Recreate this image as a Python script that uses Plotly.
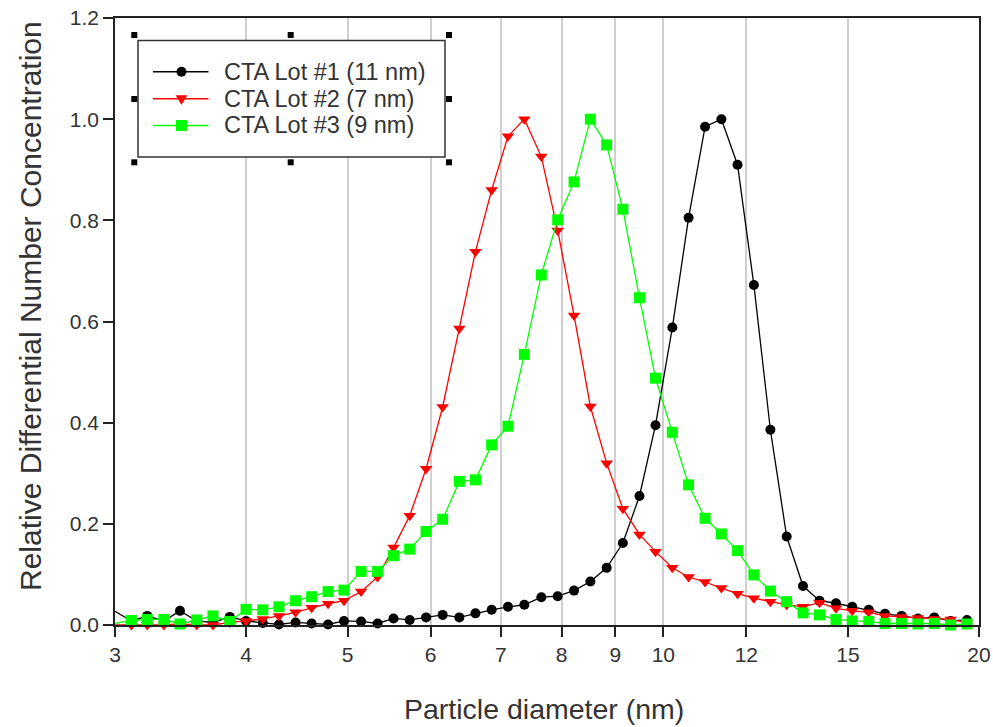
import math
import plotly.graph_objects as go

# ---------------- data ----------------
diameter_nm = [3.00, 3.11, 3.22, 3.34, 3.46, 3.59, 3.72, 3.86, 4.00, 4.15, 4.30, 4.46, 4.62, 4.79,
               4.96, 5.15, 5.34, 5.53, 5.73, 5.94, 6.16, 6.39, 6.62, 6.86, 7.11, 7.37, 7.65, 7.93,
               8.22, 8.52, 8.83, 9.15, 9.49, 9.83, 10.20, 10.57, 10.96, 11.36, 11.77, 12.20, 12.65,
               13.11, 13.59, 14.09, 14.61, 15.14, 15.70, 16.27, 16.87, 17.49, 18.13, 18.79, 19.48]

lot1_11nm = [0.027, 0.008, 0.018, 0.008, 0.028, 0.008, 0.005, 0.016, 0.008, 0.004, 0.001, 0.005,
             0.003, 0.001, 0.008, 0.007, 0.003, 0.013, 0.010, 0.015, 0.020, 0.015, 0.023, 0.030,
             0.036, 0.040, 0.055, 0.057, 0.068, 0.086, 0.113, 0.162, 0.255, 0.395, 0.588, 0.805,
             0.985, 1.000, 0.910, 0.672, 0.386, 0.175, 0.077, 0.048, 0.043, 0.036, 0.030, 0.022,
             0.018, 0.013, 0.015, 0.008, 0.010]

lot2_7nm = [0.000, 0.000, 0.000, 0.000, 0.002, 0.000, 0.000, 0.005, 0.008, 0.012, 0.018, 0.025,
            0.034, 0.042, 0.048, 0.066, 0.095, 0.153, 0.216, 0.309, 0.431, 0.586, 0.738, 0.860,
            0.966, 1.000, 0.926, 0.780, 0.612, 0.432, 0.320, 0.230, 0.179, 0.145, 0.113, 0.095,
            0.085, 0.073, 0.062, 0.053, 0.046, 0.040, 0.036, 0.044, 0.033, 0.028, 0.025, 0.018,
            0.016, 0.014, 0.012, 0.011, 0.004]

lot3_9nm = [0.003, 0.009, 0.011, 0.011, 0.002, 0.010, 0.018, 0.007, 0.031, 0.030, 0.036, 0.048,
            0.056, 0.066, 0.069, 0.106, 0.106, 0.137, 0.150, 0.185, 0.209, 0.284, 0.287, 0.356,
            0.393, 0.535, 0.692, 0.801, 0.876, 1.000, 0.949, 0.822, 0.647, 0.488, 0.381, 0.277,
            0.211, 0.180, 0.147, 0.099, 0.067, 0.046, 0.024, 0.020, 0.011, 0.008, 0.007, 0.003,
            0.003, 0.002, 0.003, 0.000, 0.002]

series_names = ["CTA Lot #1 (11 nm)", "CTA Lot #2 (7 nm)", "CTA Lot #3 (9 nm)"]
x_tick_vals = [3, 4, 5, 6, 7, 8, 9, 10, 12, 15, 20]
x_tick_text = ["3", "4", "5", "6", "7", "8", "9", "10", "12", "15", "20"]
y_tick_vals = [0.0, 0.2, 0.4, 0.6, 0.8, 1.0, 1.2]
y_tick_text = ["0.0", "0.2", "0.4", "0.6", "0.8", "1.0", "1.2"]
x_title = "Particle diameter (nm)"
y_title = "Relative Differential Number Concentration"

# ---------------- layout helpers ----------------
W, H = 993, 727
L, R, T, B = 115, 14, 18, 102
PW, PH = W - L - R, H - T - B
FONT = "Liberation Sans, Arial, sans-serif"
TXT = "#333333"


def px(x):
    return (x - L) / PW


def py(y):
    return (H - B - y) / PH


colors = ["#000000", "#ff0000", "#00ff00"]
symbols = ["circle", "triangle-down", "square"]
msizes = [10, 11, 11]
series = [lot1_11nm, lot2_7nm, lot3_9nm]

fig = go.Figure()
for name, ys, c, s, ms in zip(series_names, series, colors, symbols, msizes):
    fig.add_trace(go.Scatter(
        x=diameter_nm, y=ys, name=name, mode="lines+markers",
        line=dict(color=c, width=1.3),
        marker=dict(symbol=s, size=ms, color=c, line=dict(width=0)),
        cliponaxis=False, showlegend=False))

shapes = []
# legend box (white, above gridlines)
shapes.append(dict(type="rect", xref="paper", yref="paper",
                   x0=px(138), x1=px(445), y0=py(157), y1=py(40.5),
                   line=dict(color="#333333", width=1.5), fillcolor="white", layer="above"))
# selection handles
for hx, hy in [(134.3, 35), (290.7, 35), (449, 35), (134.3, 99), (449, 99),
               (134.3, 162.3), (290.7, 162.3), (449, 162.3)]:
    shapes.append(dict(type="rect", xref="paper", yref="paper",
                       x0=px(hx - 3), x1=px(hx + 3), y0=py(hy + 3), y1=py(hy - 3),
                       line=dict(width=0), fillcolor="black", layer="above"))

rows = [71.7, 98.7, 125.5]
annotations = []
for i, (name, c, s) in enumerate(zip(series_names, colors, symbols)):
    yy = rows[i]
    shapes.append(dict(type="line", xref="paper", yref="paper",
                       x0=px(153), x1=px(208.5), y0=py(yy), y1=py(yy),
                       line=dict(color=c, width=1.5), layer="above"))
    cx = 181.5
    if s == "circle":
        shapes.append(dict(type="circle", xref="paper", yref="paper",
                           x0=px(cx - 5), x1=px(cx + 5), y0=py(yy + 5), y1=py(yy - 5),
                           line=dict(width=0), fillcolor=c, layer="above"))
    elif s == "triangle-down":
        path = "M {} {} L {} {} L {} {} Z".format(px(cx - 6), py(yy - 3.5), px(cx + 6), py(yy - 3.5),
                                                  px(cx), py(yy + 6))
        shapes.append(dict(type="path", xref="paper", yref="paper", path=path,
                           line=dict(width=0), fillcolor=c, layer="above"))
    else:
        shapes.append(dict(type="rect", xref="paper", yref="paper",
                           x0=px(cx - 5.5), x1=px(cx + 5.5), y0=py(yy + 5.5), y1=py(yy - 5.5),
                           line=dict(width=0), fillcolor=c, layer="above"))
    annotations.append(dict(text=name, xref="paper", yref="paper", x=px(222), y=py(yy),
                            xanchor="left", yanchor="middle", showarrow=False,
                            font=dict(family=FONT, size=23.5, color=TXT)))

annotations.append(dict(text=x_title, xref="paper", yref="paper", x=px(544), y=py(709),
                        xanchor="center", yanchor="middle", showarrow=False,
                        font=dict(family=FONT, size=28.5, color=TXT)))
annotations.append(dict(text=y_title, xref="paper", yref="paper", x=px(30), y=py(306),
                        xanchor="center", yanchor="middle", showarrow=False, textangle=-90,
                        font=dict(family=FONT, size=30, color=TXT)))

fig.update_layout(
    template="none",
    width=W, height=H, autosize=False,
    margin=dict(l=L, r=R, t=T, b=B, pad=0),
    paper_bgcolor="white", plot_bgcolor="white",
    font=dict(family=FONT, color=TXT),
    xaxis=dict(type="log", range=[math.log10(3), math.log10(20)], automargin=False,
               tickmode="array", tickvals=x_tick_vals, ticktext=x_tick_text,
               ticks="outside", ticklen=10, tickwidth=1.5, tickcolor="#222222",
               showline=True, linecolor="#222222", linewidth=1.5, mirror=True,
               showgrid=True, gridcolor="#cfcfcf", gridwidth=1.5, zeroline=False,
               tickfont=dict(family=FONT, size=21, color=TXT)),
    yaxis=dict(range=[0, 1.2], automargin=False, tickmode="array",
               tickvals=y_tick_vals, ticktext=y_tick_text,
               ticks="outside", ticklen=10, tickwidth=1.5, tickcolor="#222222",
               showline=True, linecolor="#222222", linewidth=1.5, mirror=True,
               showgrid=False, zeroline=False,
               tickfont=dict(family=FONT, size=21, color=TXT)),
    shapes=shapes, annotations=annotations, showlegend=False,
)

fig.write_html("out.html")
